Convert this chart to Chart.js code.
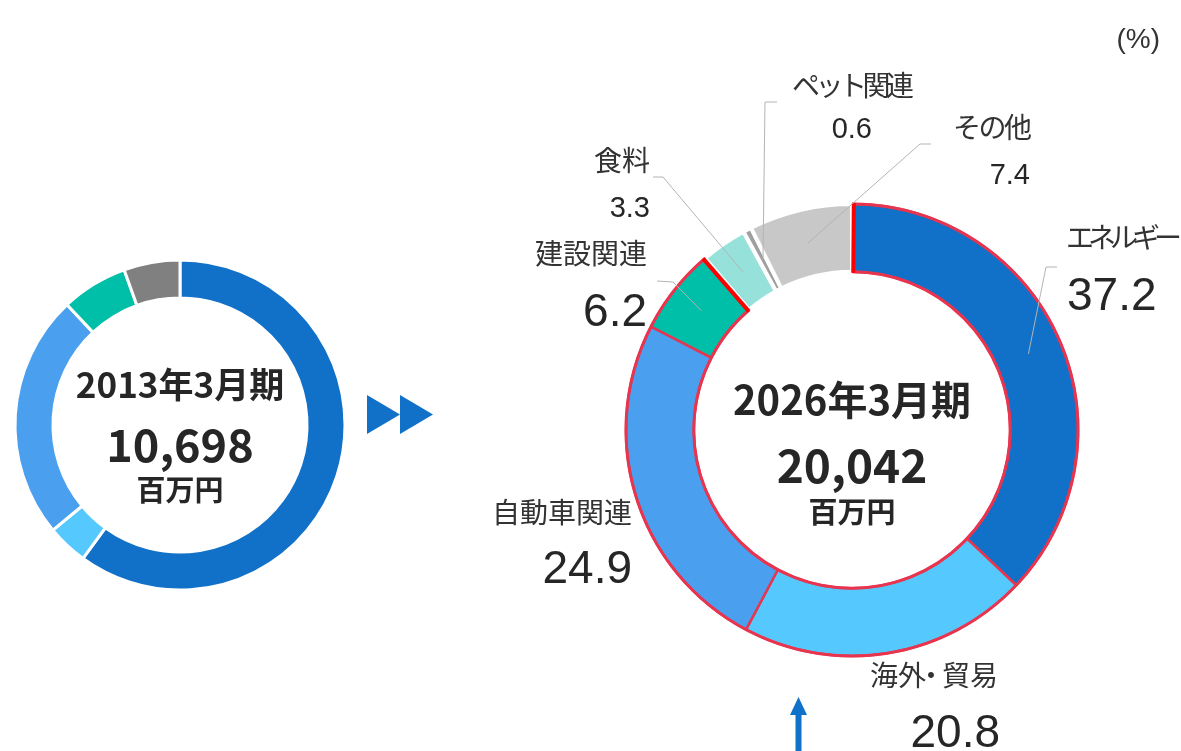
<!DOCTYPE html>
<html>
<head>
<meta charset="utf-8">
<script src="https://cdn.jsdelivr.net/npm/chart.js@4.4.1/dist/chart.umd.min.js"></script>
<style>
  html, body { margin: 0; padding: 0; background: #fff; }
  #wrap { position: relative; width: 1181px; height: 751px; overflow: hidden; }
  .box { position: absolute; }
</style>
</head>
<body>
<div id="wrap">
  <div class="box" style="left:0;top:0;width:1181px;height:751px"><canvas id="rightChart" width="1181" height="751"></canvas></div>
  <div class="box" style="left:0;top:245px;width:360px;height:360px"><canvas id="leftChart" width="360" height="360"></canvas></div>
</div>
<script>
// 2013年3月期 の構成比 (%)
const leftCategories = ['エネルギー', '海外・貿易', '自動車関連', '建設関連', 'その他'];
const leftValues = [60.0, 4.0, 24.0, 6.5, 5.5];
const leftColors = ['#1170c7', '#55c9fd', '#4a9fee', '#00bfa8', '#808080'];

// 2026年3月期 の構成比 (%)
const rightCategories = ['エネルギー', '海外・貿易', '自動車関連', '建設関連', '食料', 'ペット関連', 'その他'];
const rightValues = [37.2, 20.8, 24.9, 6.2, 3.3, 0.6, 7.4];
const rightColors = ['#1170c7', '#55c9fd', '#4a9fee', '#00bfa8', '#96e2da', '#a0a0a0', '#c8c8c8'];

const leftPeriod = '2013年3月期';
const leftTotal = '10,698';
const rightPeriod = '2026年3月期';
const rightTotal = '20,042';
const unitLabel = '百万円';

const CRIMSON = '#e8354f';
const JP = '"Noto Sans CJK JP", sans-serif';
const LAT = '"Liberation Sans", "Noto Sans CJK JP", sans-serif';

// label placement for the right ring: [x, y, align, letterSpacing]
const labelPos = [
  { name: [1066, 240, 'left', -6],  value: [1067, 310, 'left'],  elbow: [1046, 267], end: [1057, 267] },
  { name: [870, 678, 'split', 0],   value: [1000, 747, 'right'] },
  { name: [632, 515, 'right', 0],   value: [632, 583, 'right'] },
  { name: [647, 256, 'right', 0],   value: [647, 326, 'right'], elbow: [673, 282], end: [657, 281] },
  { name: [650, 163, 'right', 0],   value: [650, 217, 'right'], elbow: [663, 177], end: [653, 177] },
  { name: [792, 88, 'left', -4.5],  value: [872, 138, 'right'], elbow: [765, 102], end: [777, 102] },
  { name: [953, 130, 'left', -2.5], value: [1030, 184, 'right'], elbow: [920, 144], end: [931, 144] }
];
const bigValue = [true, true, true, true, false, false, false];

function text(ctx, str, x, y, font, align, base, color, spacing) {
  ctx.font = font;
  ctx.textAlign = align;
  ctx.textBaseline = base;
  ctx.fillStyle = color || '#333';
  ctx.letterSpacing = (spacing || 0) + 'px';
  ctx.fillText(str, x, y);
  ctx.letterSpacing = '0px';
}

const rightDecor = {
  id: 'rightDecor',
  afterDatasetsDraw(chart) {
    const ctx = chart.ctx;
    const arcs = chart.getDatasetMeta(0).data;
    const a0 = arcs[0].getProps(['x', 'y', 'startAngle', 'innerRadius', 'outerRadius'], true);
    const a3 = arcs[3].getProps(['endAngle'], true);
    const cx = a0.x, cy = a0.y, ri = a0.innerRadius, ro = a0.outerRadius;
    ctx.save();
    // outline round the first four segments
    ctx.strokeStyle = CRIMSON;
    ctx.lineWidth = 3;
    ctx.beginPath(); ctx.arc(cx, cy, ro, a0.startAngle, a3.endAngle); ctx.stroke();
    ctx.beginPath(); ctx.arc(cx, cy, ri, a0.startAngle, a3.endAngle); ctx.stroke();
    ctx.strokeStyle = '#ff0000';
    ctx.lineWidth = 4;
    [a0.startAngle + 0.008, a3.endAngle - 0.008].forEach(a => {
      ctx.beginPath();
      ctx.moveTo(cx + (ri - 1) * Math.cos(a), cy + (ri - 1) * Math.sin(a));
      ctx.lineTo(cx + (ro + 1) * Math.cos(a), cy + (ro + 1) * Math.sin(a));
      ctx.stroke();
    });

    // leader lines
    ctx.strokeStyle = '#b4b4b4';
    ctx.lineWidth = 1;
    arcs.forEach((arc, i) => {
      const p = labelPos[i];
      if (!p.elbow) return;
      const g = arc.getProps(['startAngle', 'endAngle', 'innerRadius', 'outerRadius'], true);
      const m = (g.startAngle + g.endAngle) / 2;
      const r = (g.innerRadius + g.outerRadius) / 2;
      ctx.beginPath();
      ctx.moveTo(cx + r * Math.cos(m), cy + r * Math.sin(m));
      ctx.lineTo(p.elbow[0], p.elbow[1]);
      ctx.lineTo(p.end[0], p.end[1]);
      ctx.stroke();
    });

    // labels
    const lf = '28px ' + LAT;
    rightCategories.forEach((name, i) => {
      const p = labelPos[i];
      if (p.name[2] === 'split') {
        // 海外・貿易 with a narrow middle dot
        const parts = name.split('・');
        text(ctx, parts[0], p.name[0], p.name[1], lf, 'left', 'middle', '#333');
        text(ctx, '・', p.name[0] + 61, p.name[1], lf, 'center', 'middle', '#333');
        text(ctx, parts[1], p.name[0] + 128, p.name[1], lf, 'right', 'middle', '#333');
      } else {
        text(ctx, name, p.name[0], p.name[1], lf, p.name[2], 'middle', '#333', p.name[3]);
      }
      const f = bigValue[i] ? '46px ' + LAT : '29px ' + LAT;
      text(ctx, rightValues[i].toFixed(1), p.value[0], p.value[1], f, p.value[2], 'alphabetic', '#262626');
    });

    // centre text
    text(ctx, rightPeriod, cx, 415, 'bold 40px ' + JP, 'center', 'alphabetic', '#262626');
    text(ctx, rightTotal, cx, 483, 'bold 46px ' + JP, 'center', 'alphabetic', '#262626');
    text(ctx, unitLabel, cx, 523, 'bold 29px ' + JP, 'center', 'alphabetic', '#262626');

    // unit
    text(ctx, '(%)', 1160, 40, '28px ' + LAT, 'right', 'middle', '#333');

    // arrows
    ctx.fillStyle = '#1170c7';
    [367, 400].forEach(x0 => {
      ctx.beginPath();
      ctx.moveTo(x0, 395); ctx.lineTo(x0 + 33, 414.5); ctx.lineTo(x0, 434); ctx.closePath();
      ctx.fill();
    });
    ctx.beginPath();
    ctx.moveTo(798.5, 697); ctx.lineTo(807, 715); ctx.lineTo(790, 715); ctx.closePath();
    ctx.fill();
    ctx.fillRect(795.5, 714, 6, 40);
    ctx.restore();
  }
};

// left ring centre text (canvas-local coordinates)
const leftDecor = {
  id: 'leftDecor',
  afterDatasetsDraw(chart) {
    const ctx = chart.ctx;
    const a = chart.getDatasetMeta(0).data[0];
    const cx = a.x, cy = a.y;
    ctx.save();
    text(ctx, leftPeriod, cx, cy - 27, 'bold 35px ' + JP, 'center', 'alphabetic', '#262626');
    text(ctx, leftTotal, cx, cy + 37, 'bold 45px ' + JP, 'center', 'alphabetic', '#262626');
    text(ctx, unitLabel, cx, cy + 76, 'bold 29px ' + JP, 'center', 'alphabetic', '#262626');
    ctx.restore();
  }
};

const common = {
  responsive: false,
  animation: false,
  devicePixelRatio: 1,
  plugins: { legend: { display: false }, tooltip: { enabled: false } },
  events: []
};

new Chart(document.getElementById('rightChart'), {
  type: 'doughnut',
  data: {
    labels: rightCategories,
    datasets: [{
      data: rightValues,
      backgroundColor: rightColors,
      borderColor: [CRIMSON, CRIMSON, CRIMSON, CRIMSON, '#fff', '#fff', '#fff'],
      borderWidth: [2.5, 2.5, 2.5, 2.5, 4, 4, 4]
    }]
  },
  options: Object.assign({}, common, {
    radius: 226,
    cutout: '70%',
    layout: { padding: { left: 523, top: 109, right: 0, bottom: 0 } }
  }),
  plugins: [rightDecor]
});

new Chart(document.getElementById('leftChart'), {
  type: 'doughnut',
  data: {
    labels: leftCategories,
    datasets: [{
      data: leftValues,
      backgroundColor: leftColors,
      borderColor: '#fff',
      borderWidth: 3
    }]
  },
  options: Object.assign({}, common, {
    radius: 165,
    cutout: '77%',
    layout: { padding: 0 }
  }),
  plugins: [leftDecor]
});
</script>
</body>
</html>
